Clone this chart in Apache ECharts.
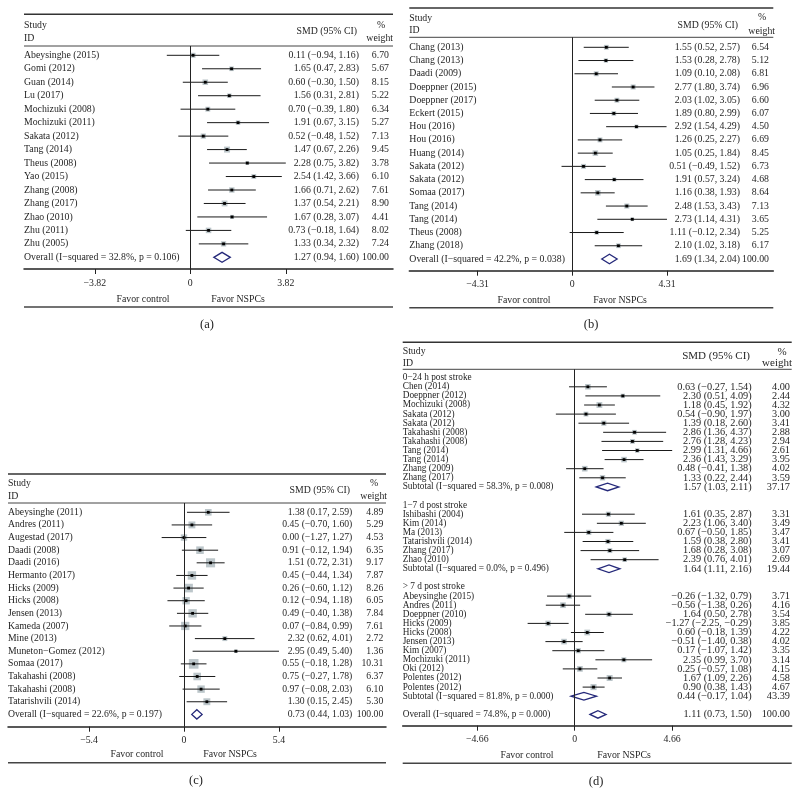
<!DOCTYPE html>
<html><head><meta charset="utf-8">
<script src="https://cdn.jsdelivr.net/npm/echarts@6/dist/echarts.min.js"></script>
<style>html,body{margin:0;padding:0;background:#fff}#c{width:800px;height:806px}</style>
</head><body><div id="c"></div><script>
// ---------------- DATA ----------------
// Panel (a)
const A_STUDIES = ["Abeysinghe (2015)","Gomi (2012)","Guan (2014)","Lu (2017)","Mochizuki (2008)","Mochizuki (2011)","Sakata (2012)","Tang (2014)","Theus (2008)","Yao (2015)","Zhang (2008)","Zhang (2017)","Zhao (2010)","Zhu (2011)","Zhu (2005)"];
const A_SMD = [0.11,1.65,0.60,1.56,0.70,1.91,0.52,1.47,2.28,2.54,1.66,1.37,1.67,0.73,1.33];
const A_LO  = [-0.94,0.47,-0.30,0.31,-0.39,0.67,-0.48,0.67,0.75,1.42,0.71,0.54,0.28,-0.18,0.34];
const A_HI  = [1.16,2.83,1.50,2.81,1.80,3.15,1.52,2.26,3.82,3.66,2.62,2.21,3.07,1.64,2.32];
const A_W   = [6.70,5.67,8.15,5.22,6.34,5.27,7.13,9.45,3.78,6.10,7.61,8.90,4.41,8.02,7.24];
const A_OVERALL = [1.27,0.94,1.60,100.00];
const A_OVERALL_LABEL = "Overall (I\u2212squared = 32.8%, p = 0.106)";
const A_TICKS = [-3.82,0,3.82];

// Panel (b)
const B_STUDIES = ["Chang (2013)","Chang (2013)","Daadi (2009)","Doeppner (2015)","Doeppner (2017)","Eckert (2015)","Hou (2016)","Hou (2016)","Huang (2014)","Sakata (2012)","Sakata (2012)","Somaa (2017)","Tang (2014)","Tang (2014)","Theus (2008)","Zhang (2018)"];
const B_SMD = [1.55,1.53,1.09,2.77,2.03,1.89,2.92,1.26,1.05,0.51,1.91,1.16,2.48,2.73,1.11,2.10];
const B_LO  = [0.52,0.28,0.10,1.80,1.02,0.80,1.54,0.25,0.25,-0.49,0.57,0.38,1.53,1.14,-0.12,1.02];
const B_HI  = [2.57,2.78,2.08,3.74,3.05,2.99,4.29,2.27,1.84,1.52,3.24,1.93,3.43,4.31,2.34,3.18];
const B_W   = [6.54,5.12,6.81,6.96,6.60,6.07,4.50,6.69,8.45,6.73,4.68,8.64,7.13,3.65,5.25,6.17];
const B_OVERALL = [1.69,1.34,2.04,100.00];
const B_OVERALL_LABEL = "Overall (I\u2212squared = 42.2%, p = 0.038)";
const B_TICKS = [-4.31,0,4.31];

// Panel (c)
const C_STUDIES = ["Abeysinghe (2011)","Andres (2011)","Augestad (2017)","Daadi (2008)","Daadi (2016)","Hermanto (2017)","Hicks (2009)","Hicks (2008)","Jensen (2013)","Kameda (2007)","Mine (2013)","Muneton\u2212Gomez (2012)","Somaa (2017)","Takahashi (2008)","Takahashi (2008)","Tatarishvili (2014)"];
const C_SMD = [1.38,0.45,0.00,0.91,1.51,0.45,0.26,0.12,0.49,0.07,2.32,2.95,0.55,0.75,0.97,1.30];
const C_LO  = [0.17,-0.70,-1.27,-0.12,0.72,-0.44,-0.60,-0.94,-0.40,-0.84,0.62,0.49,-0.18,-0.27,-0.08,0.15];
const C_HI  = [2.59,1.60,1.27,1.94,2.31,1.34,1.12,1.18,1.38,0.99,4.01,5.40,1.28,1.78,2.03,2.45];
const C_W   = [4.89,5.29,4.53,6.35,9.17,7.87,8.26,6.05,7.84,7.61,2.72,1.36,10.31,6.37,6.10,5.30];
const C_OVERALL = [0.73,0.44,1.03,100.00];
const C_OVERALL_LABEL = "Overall (I\u2212squared = 22.6%, p = 0.197)";
const C_TICKS = [-5.4,0,5.4];

// Panel (d)
const D1_TITLE = "0\u221224 h post stroke";
const D1_STUDIES = ["Chen (2014)","Doeppner (2012)","Mochizuki (2008)","Sakata (2012)","Sakata (2012)","Takahashi (2008)","Takahashi (2008)","Tang (2014)","Tang (2014)","Zhang (2009)","Zhang (2017)"];
const D1_SMD = [0.63,2.30,1.18,0.54,1.39,2.86,2.76,2.99,2.36,0.48,1.33];
const D1_LO  = [-0.27,0.51,0.45,-0.90,0.18,1.36,1.28,1.31,1.43,-0.41,0.22];
const D1_HI  = [1.54,4.09,1.92,1.97,2.60,4.37,4.23,4.66,3.29,1.38,2.44];
const D1_W   = [4.00,2.44,4.32,3.00,3.41,2.88,2.94,2.61,3.95,4.02,3.59];
const D1_SUB = [1.57,1.03,2.11,37.17];
const D1_SUB_LABEL = "Subtotal (I\u2212squared = 58.3%, p = 0.008)";

const D2_TITLE = "1\u22127 d post stroke";
const D2_STUDIES = ["Ishibashi (2004)","Kim (2014)","Ma (2013)","Tatarishvili (2014)","Zhang (2017)","Zhao (2010)"];
const D2_SMD = [1.61,2.23,0.67,1.59,1.68,2.39];
const D2_LO  = [0.35,1.06,-0.50,0.38,0.28,0.76];
const D2_HI  = [2.87,3.40,1.85,2.80,3.08,4.01];
const D2_W   = [3.31,3.49,3.47,3.41,3.07,2.69];
const D2_SUB = [1.64,1.11,2.16,19.44];
const D2_SUB_LABEL = "Subtotal (I\u2212squared = 0.0%, p = 0.496)";

const D3_TITLE = "> 7 d post stroke";
const D3_STUDIES = ["Abeysinghe (2015)","Andres (2011)","Doeppner (2010)","Hicks (2009)","Hicks (2008)","Jensen (2013)","Kim (2007)","Mochizuki (2011)","Oki (2012)","Polentes (2012)","Polentes (2012)"];
const D3_SMD = [-0.26,-0.56,1.64,-1.27,0.60,-0.51,0.17,2.35,0.25,1.67,0.90];
const D3_LO  = [-1.32,-1.38,0.50,-2.25,-0.18,-1.40,-1.07,0.99,-0.57,1.09,0.38];
const D3_HI  = [0.79,0.26,2.78,-0.29,1.39,0.38,1.42,3.70,1.08,2.26,1.43];
const D3_W   = [3.71,4.16,3.54,3.85,4.22,4.02,3.35,3.14,4.15,4.58,4.67];
const D3_SUB = [0.44,-0.17,1.04,43.39];
const D3_SUB_LABEL = "Subtotal (I\u2212squared = 81.8%, p = 0.000)";

const D_OVERALL = [1.11,0.73,1.50,100.00];
const D_OVERALL_LABEL = "Overall (I\u2212squared = 74.8%, p = 0.000)";
const D_TICKS = [-4.66,0,4.66];

// ---------------- BUILD ----------------
const FONT = "'Liberation Serif','Times New Roman',serif";
const TXT = '#1f1f1f';
const BOX = '#bcc6ca';
const CI = '#1a1a1a';
const DIA = '#25297a';

function fmt(v){ return (v < 0 ? '\u2212' : '') + Math.abs(v).toFixed(2); }
function ciText(s,l,h){ return fmt(s) + ' (' + fmt(l) + ', ' + fmt(h) + ')'; }
function fmtTick(v){ return v === 0 ? '0' : (v < 0 ? '\u2212' + Math.abs(v) : String(v)); }

function studyRows(names, smd, lo, hi, w){
  return names.map((n,i)=>({kind:'study', label:n, smd:smd[i], lo:lo[i], hi:hi[i], w:w[i]}));
}
function pooledRow(label, arr){ return {kind:'pooled', label:label, smd:arr[0], lo:arr[1], hi:arr[2], w:arr[3]}; }

const ROWS_A = studyRows(A_STUDIES,A_SMD,A_LO,A_HI,A_W).concat([pooledRow(A_OVERALL_LABEL,A_OVERALL)]);
const ROWS_B = studyRows(B_STUDIES,B_SMD,B_LO,B_HI,B_W).concat([pooledRow(B_OVERALL_LABEL,B_OVERALL)]);
const ROWS_C = studyRows(C_STUDIES,C_SMD,C_LO,C_HI,C_W).concat([pooledRow(C_OVERALL_LABEL,C_OVERALL)]);
const ROWS_D = [].concat(
  [{kind:'heading', label:D1_TITLE}], studyRows(D1_STUDIES,D1_SMD,D1_LO,D1_HI,D1_W), [pooledRow(D1_SUB_LABEL,D1_SUB), {kind:'blank'}],
  [{kind:'heading', label:D2_TITLE}], studyRows(D2_STUDIES,D2_SMD,D2_LO,D2_HI,D2_W), [pooledRow(D2_SUB_LABEL,D2_SUB), {kind:'blank'}],
  [{kind:'heading', label:D3_TITLE}], studyRows(D3_STUDIES,D3_SMD,D3_LO,D3_HI,D3_W), [pooledRow(D3_SUB_LABEL,D3_SUB), {kind:'blank'}],
  [pooledRow(D_OVERALL_LABEL,D_OVERALL)]
);

// layout (pixels)
const PANELS = [
  {rows:ROWS_A, ticks:A_TICKS, cap:'(a)', left:24, right:393, zeroX:190.3, scale:25.0, lineTop:14.3, headY:46, axisY:269, bottomY:307,
   row0:55.3, dy:13.47, smdRight:359, wRight:389, studyY:25, idY:38, smdHeadX:357, smdHeadY:31, pctX:381, pctY:25, weightX:393, weightY:38,
   favorY:299, favCtrlX:143, favNspcX:238, capX:207, capY:325, nameFont:9.8, numFont:9.8, headFont:9.8, box:1.95, dia:5},
  {rows:ROWS_B, ticks:B_TICKS, cap:'(b)', left:409.3, right:773.3, zeroX:572.3, scale:21.97, lineTop:8, headY:37.3, axisY:270.7, bottomY:307.7,
   row0:47.3, dy:13.23, smdRight:740, wRight:769, studyY:18, idY:30, smdHeadX:738, smdHeadY:25, pctX:762, pctY:17, weightX:775, weightY:31,
   favorY:300, favCtrlX:524, favNspcX:620, capX:591, capY:325, nameFont:9.8, numFont:9.8, headFont:9.8, box:1.9, dia:4.7},
  {rows:ROWS_C, ticks:C_TICKS, cap:'(c)', left:8, right:386, zeroX:184, scale:17.59, lineTop:474, headY:503, axisY:726.7, bottomY:762.7,
   row0:512.3, dy:12.63, smdRight:352.3, wRight:383.3, studyY:483, idY:496.7, smdHeadX:350, smdHeadY:490, pctX:374, pctY:483, weightX:387, weightY:496.7,
   favorY:754.3, favCtrlX:137, favNspcX:230, capX:196, capY:781, nameFont:9.7, numFont:9.7, headFont:9.8, box:3.0, dia:4.7},
  {rows:ROWS_D, ticks:D_TICKS, cap:'(d)', left:402.7, right:791.7, zeroX:574.7, scale:20.92, lineTop:342.3, headY:369.3, axisY:725.7, bottomY:763.3,
   row0:377.7, dy:9.1, smdRight:751.7, wRight:790, studyY:351.7, idY:363.3, smdHeadX:750, smdHeadY:356, pctX:782, pctY:351.7, weightX:792, weightY:363.3,
   favorY:755, favCtrlX:527, favNspcX:624, capX:596, capY:782, nameFont:9.3, numFont:10.3, headFont:11, box:2.8, dia:3.8}
];

const grids = [], xAxes = [], yAxes = [], series = [], graphics = [];

function gText(x, y, text, size, align){
  return {type:'text', x:x, y:y, silent:true,
    style:{text:text, font: size + 'px ' + FONT, fill:TXT, align:align||'left', verticalAlign:'middle', textAlign:align||'left', textVerticalAlign:'middle'}};
}
function gLine(x1, x2, y, w, c){
  return {type:'line', silent:true, shape:{x1:x1, y1:y, x2:x2, y2:y}, style:{stroke:c, lineWidth:w}};
}

PANELS.forEach((P, gi)=>{
  grids.push({left:P.left, top:P.headY, width:P.right-P.left, height:P.axisY-P.headY, containLabel:false});
  xAxes.push({
    type:'value', gridIndex:gi,
    min:(P.left-P.zeroX)/P.scale, max:(P.right-P.zeroX)/P.scale,
    axisLine:{show:true, onZero:false, lineStyle:{color:'#222', width:1.5}},
    axisTick:{show:true, customValues:P.ticks, length:5, lineStyle:{color:'#222', width:1}},
    axisLabel:{show:true, customValues:P.ticks, formatter:fmtTick, fontFamily:FONT, fontSize:9.8, color:TXT, margin:9},
    splitLine:{show:false}
  });
  yAxes.push({
    type:'value', gridIndex:gi, inverse:true, show:false,
    min:(P.headY-P.row0)/P.dy, max:(P.axisY-P.row0)/P.dy,
    splitLine:{show:false}
  });

  const rows = P.rows;
  const studyData = [], pooledData = [], textData = [];
  rows.forEach((r,i)=>{
    if (r.kind === 'study') studyData.push([r.smd, i, r.lo, r.hi, r.w]);
    if (r.kind === 'pooled') pooledData.push([r.smd, i, r.lo, r.hi, r.w]);
    if (r.kind !== 'blank') textData.push([0, i]);
  });

  // zero reference line
  series.push({
    type:'line', xAxisIndex:gi, yAxisIndex:gi, data:[], silent:true,
    markLine:{silent:true, symbol:['none','none'], label:{show:false},
      lineStyle:{type:'solid', color:'#222', width:1}, data:[{xAxis:0}]}
  });

  // study CI lines + boxes
  series.push({
    type:'custom', xAxisIndex:gi, yAxisIndex:gi, data:studyData, encode:{x:0, y:1}, silent:true,
    renderItem:(params, api)=>{
      const s = api.value(0), r = api.value(1), lo = api.value(2), hi = api.value(3), w = api.value(4);
      const c = api.coord([s, r]), pl = api.coord([lo, r]), ph = api.coord([hi, r]);
      const side = P.box * Math.sqrt(w);
      return {type:'group', children:[
        {type:'rect', shape:{x:c[0]-side/2, y:c[1]-side/2, width:side, height:side}, style:{fill:BOX}},
        {type:'line', shape:{x1:pl[0], y1:c[1], x2:ph[0], y2:c[1]}, style:{stroke:CI, lineWidth:1}},
        {type:'rect', shape:{x:c[0]-1.4, y:c[1]-1.4, width:2.8, height:2.8}, style:{fill:'#000'}}
      ]};
    }
  });

  // pooled diamonds
  series.push({
    type:'custom', xAxisIndex:gi, yAxisIndex:gi, data:pooledData, encode:{x:0, y:1}, silent:true,
    renderItem:(params, api)=>{
      const s = api.value(0), r = api.value(1), lo = api.value(2), hi = api.value(3);
      const c = api.coord([s, r]), pl = api.coord([lo, r]), ph = api.coord([hi, r]);
      const h = P.dia;
      return {type:'polygon', shape:{points:[[pl[0],c[1]],[c[0],c[1]-h],[ph[0],c[1]],[c[0],c[1]+h]]},
        style:{fill:'#fff', stroke:DIA, lineWidth:1.3}};
    }
  });

  // row texts
  series.push({
    type:'custom', xAxisIndex:gi, yAxisIndex:gi, data:textData, encode:{x:0, y:1}, silent:true,
    renderItem:(params, api)=>{
      const i = api.value(1);
      const r = rows[i];
      const y = api.coord([0, i])[1];
      const ch = [];
      const mk = (x, t, size, align)=>({type:'text', x:x, y:y,
        style:{text:t, font:size+'px '+FONT, fill:TXT, align:align, verticalAlign:'middle', textAlign:align, textVerticalAlign:'middle'}});
      ch.push(mk(P.left, r.label, P.nameFont, 'left'));
      if (r.kind === 'study' || r.kind === 'pooled') {
        ch.push(mk(P.smdRight, ciText(r.smd, r.lo, r.hi), P.numFont, 'right'));
        ch.push(mk(P.wRight, r.w.toFixed(2), P.numFont, 'right'));
      }
      return {type:'group', children:ch};
    }
  });

  // frame lines & static texts
  graphics.push(gLine(P.left, P.right, P.lineTop, 1.5, '#333'));
  graphics.push(gLine(P.left, P.right, P.headY, 1, '#444'));
  graphics.push(gLine(P.left, P.right, P.bottomY, 1.5, '#444'));
  graphics.push(gText(P.left, P.studyY, 'Study', 9.8, 'left'));
  graphics.push(gText(P.left, P.idY, 'ID', 9.8, 'left'));
  graphics.push(gText(P.smdHeadX, P.smdHeadY, 'SMD (95% CI)', P.headFont, 'right'));
  graphics.push(gText(P.pctX, P.pctY, '%', P.headFont, 'center'));
  graphics.push(gText(P.weightX, P.weightY, 'weight', P.headFont, 'right'));
  graphics.push(gText(P.favCtrlX, P.favorY, 'Favor control', 9.8, 'center'));
  graphics.push(gText(P.favNspcX, P.favorY, 'Favor NSPCs', 9.8, 'center'));
  graphics.push(gText(P.capX, P.capY, P.cap, 12.5, 'center'));
});

const chart = echarts.init(document.getElementById('c'), null, {renderer:'canvas'});
chart.setOption({
  animation:false,
  backgroundColor:'#fff',
  grid:grids, xAxis:xAxes, yAxis:yAxes, series:series,
  graphic:{elements:graphics}
});
</script></body></html>
